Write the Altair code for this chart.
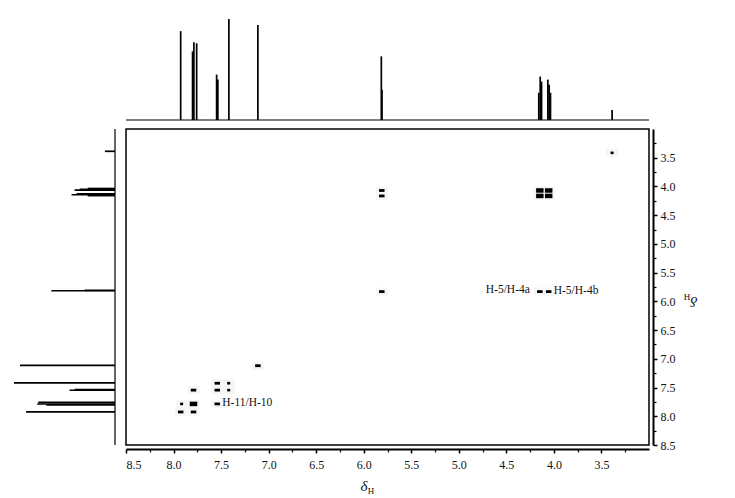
import altair as alt
import pandas as pd

# ---------------- data ----------------
# 1H spectrum (projections): line positions (ppm) and relative heights
peak_ppm = [7.925, 7.800, 7.786, 7.757, 7.547, 7.534, 7.418, 7.113,
            5.815, 5.808, 4.159, 4.144, 4.130, 4.064, 4.050, 4.036, 3.388]
peak_int = [88, 68, 77, 76, 45, 40, 100, 94, 63, 30, 27, 43, 38, 40, 35, 27, 10]

# COSY cross / diagonal peaks: F2 (x), F1 (y), intensity class
cross_f2 = [7.925, 7.790, 7.915, 7.790, 7.540, 7.790, 7.540, 7.420, 7.540, 7.420,
            7.113, 5.810, 4.148, 4.055, 5.810, 5.810, 4.148, 4.055, 4.148, 4.055, 3.388]
cross_f1 = [7.925, 7.925, 7.785, 7.785, 7.785, 7.545, 7.545, 7.545, 7.425, 7.425,
            7.120, 5.830, 5.830, 5.830, 4.070, 4.165, 4.070, 4.070, 4.165, 4.165, 3.415]
cross_level = ["medium", "medium", "weak", "strong", "medium", "medium", "medium", "weak",
               "medium", "weak", "medium", "medium", "medium", "medium", "medium", "medium",
               "strong", "strong", "strong", "strong", "weak"]

# annotations (placed after / before the peak they name)
label_after_text = ["H-11/H-10", "H-5/H-4b"]
label_after_f2 = [7.540, 4.055]
label_after_f1 = [7.785, 5.830]
label_before_text = ["H-5/H-4a"]
label_before_f2 = [4.148]
label_before_f1 = [5.830]

ppm_lo, ppm_hi = 3.0, 8.5
major_ticks = [8.5, 8.0, 7.5, 7.0, 6.5, 6.0, 5.5, 5.0, 4.5, 4.0, 3.5]
minor_ticks = [8.25, 7.75, 7.25, 6.75, 6.25, 5.75, 5.25, 4.75, 4.25, 3.75, 3.25]
title_symbol = "δ"
title_nucleus = "H"

# ---------------- tables ----------------
peaks = pd.DataFrame({"ppm": peak_ppm, "inten": peak_int})
peaks["zero"] = 0
cross = pd.DataFrame({"f2": cross_f2, "f1": cross_f1, "level": cross_level})
lab_after = pd.DataFrame({"text": label_after_text, "f2": label_after_f2, "f1": label_after_f1})
lab_before = pd.DataFrame({"text": label_before_text, "f2": label_before_f2, "f1": label_before_f1})
frame = pd.DataFrame({"lo": [ppm_lo], "hi": [ppm_hi], "zero": [0]})

# ---------------- scales ----------------
W, H = 641, 437
xs = alt.Scale(domain=[ppm_lo, ppm_hi], range=[641, 118], nice=False, zero=False)
ys = alt.Scale(domain=[ppm_lo, ppm_hi], range=[121, 437], nice=False, zero=False)
top_s = alt.Scale(domain=[0, 100], range=[112, 11], nice=False, zero=False)
left_s = alt.Scale(domain=[0, 100], range=[107, 6], nice=False, zero=False)

serif = "Liberation Serif"
common = dict(domainColor="black", tickColor="black", labelColor="#111",
              labelFont=serif, labelFontSize=12, grid=False, title=None)
x_axis = alt.Axis(orient="bottom", values=major_ticks, format=".1f", offset=4,
                  tickSize=4, tickWidth=1.5, domainWidth=2, labelPadding=6, **common)
y_axis = alt.Axis(orient="right", values=major_ticks, format=".1f", offset=4,
                  tickSize=4, tickWidth=1.5, domainWidth=2, labelPadding=3, **common)
x_minor = alt.Axis(orient="bottom", values=minor_ticks, labels=False, domain=False,
                   offset=4, tickSize=3, tickWidth=1.2, tickColor="black", grid=False, title=None)
y_minor = alt.Axis(orient="right", values=minor_ticks, labels=False, domain=False,
                   offset=4, tickSize=3, tickWidth=1.2, tickColor="black", grid=False, title=None)

# ---------------- main 2D panel ----------------
box = alt.Chart(frame).mark_rect(fillOpacity=0, stroke="black", strokeWidth=1.5).encode(
    x=alt.X("lo:Q", scale=xs, axis=x_axis), x2="hi:Q",
    y=alt.Y("lo:Q", scale=ys, axis=y_axis), y2="hi:Q")

halo = alt.Chart(cross).mark_tick(orient="horizontal", size=12, thickness=8,
                                  color="#f6f6f6", opacity=1).encode(
    x=alt.X("f2:Q", scale=xs, axis=None), y=alt.Y("f1:Q", scale=ys, axis=None))


def cross_layer(level, size, thick):
    return alt.Chart(cross).transform_filter(alt.datum.level == level).mark_tick(
        orient="horizontal", size=size, thickness=thick, color="black", opacity=1).encode(
        x=alt.X("f2:Q", scale=xs, axis=None), y=alt.Y("f1:Q", scale=ys, axis=None))


strong = cross_layer("strong", 7.5, 4.5)
medium = cross_layer("medium", 5.5, 2.8)
weak = cross_layer("weak", 3, 2.6)

txt_after = alt.Chart(lab_after).mark_text(align="left", baseline="middle", dx=5, dy=-1,
                                           font=serif, fontSize=11.5, color="#111").encode(
    x=alt.X("f2:Q", scale=xs, axis=None), y=alt.Y("f1:Q", scale=ys, axis=None), text="text:N")
txt_before = alt.Chart(lab_before).mark_text(align="right", baseline="middle", dx=-10, dy=-2,
                                             font=serif, fontSize=11.5, color="#111").encode(
    x=alt.X("f2:Q", scale=xs, axis=None), y=alt.Y("f1:Q", scale=ys, axis=None), text="text:N")

# ---------------- top projection ----------------
top_lines = alt.Chart(peaks).mark_rule(color="black", strokeWidth=1.7).encode(
    x=alt.X("ppm:Q", scale=xs, axis=None),
    y=alt.Y("inten:Q", scale=top_s, axis=None), y2="zero:Q")
top_base = alt.Chart(frame).mark_rule(color="black", strokeWidth=1.2).encode(
    x=alt.X("lo:Q", scale=xs, axis=None), x2="hi:Q",
    y=alt.Y("zero:Q", scale=top_s, axis=None))

# ---------------- left projection ----------------
left_lines = alt.Chart(peaks).mark_rule(color="black", strokeWidth=1.7).encode(
    y=alt.Y("ppm:Q", scale=ys, axis=None),
    x=alt.X("inten:Q", scale=left_s, axis=None), x2="zero:Q")
left_base = alt.Chart(frame).mark_rule(color="black", strokeWidth=1.2).encode(
    y=alt.Y("lo:Q", scale=ys, axis=None), y2="hi:Q",
    x=alt.X("zero:Q", scale=left_s, axis=None))

# ---------------- minor ticks ----------------
minor = alt.Chart(frame).mark_point(opacity=0).encode(
    x=alt.X("lo:Q", scale=xs, axis=x_minor), y=alt.Y("lo:Q", scale=ys, axis=y_minor))

# ---------------- axis titles (δH) ----------------
sym = pd.DataFrame({"t": [title_symbol]})
nuc = pd.DataFrame({"t": [title_nucleus]})
xt1 = alt.Chart(sym).mark_text(font=serif, fontSize=15, fontStyle="italic", color="#111",
                               align="center", baseline="middle").encode(
    x=alt.value(356), y=alt.value(478), text="t:N")
xt2 = alt.Chart(nuc).mark_text(font=serif, fontSize=9, color="#111",
                               align="center", baseline="middle").encode(
    x=alt.value(363), y=alt.value(483), text="t:N")
yt1 = alt.Chart(sym).mark_text(font=serif, fontSize=15, fontStyle="italic", color="#111",
                               align="center", baseline="middle", angle=180).encode(
    x=alt.value(686), y=alt.value(294), text="t:N")
yt2 = alt.Chart(nuc).mark_text(font=serif, fontSize=9, color="#111",
                               align="center", baseline="middle", angle=180).encode(
    x=alt.value(679), y=alt.value(289), text="t:N")

chart = alt.layer(
    halo, box, strong, medium, weak, txt_after, txt_before,
    top_base, top_lines, left_base, left_lines, minor,
    xt1, xt2, yt1, yt2,
).resolve_scale(x="independent", y="independent").properties(
    width=W, height=H, padding={"left": 0, "top": 0, "right": 0, "bottom": 0}
).configure_view(stroke=None)

chart.save("out.html", embed_options={"renderer": "svg", "actions": False})
